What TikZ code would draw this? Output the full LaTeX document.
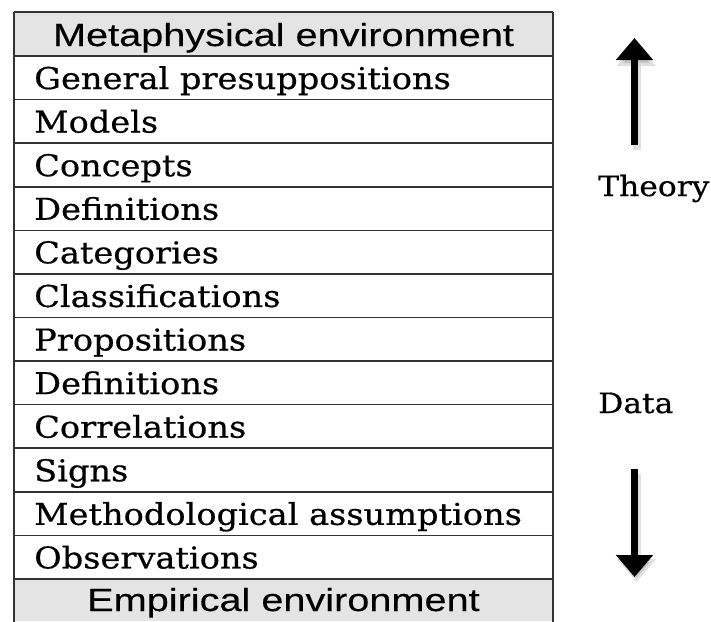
\documentclass[tikz,border=0pt]{standalone}
\usepackage{fontspec}
\setmainfont{DejaVu Serif}[FakeStretch=1.12,FakeBold=0.6]
\newfontfamily\hdrfont{Liberation Sans}[FakeStretch=1.24,FakeBold=0.3]
\usetikzlibrary{arrows.meta}
\definecolor{hdrgray}{HTML}{E4E4E4}
\definecolor{linegray}{HTML}{333333}
\tikzset{
  rowtext/.style={anchor=base west, inner sep=0pt, font=\fontsize{30}{36}\selectfont},
  hdrtext/.style={anchor=base, inner sep=0pt, font=\hdrfont\fontsize{32}{38}\selectfont},
  sidetext/.style={anchor=base west, inner sep=0pt, font=\fontsize{28}{34}\selectfont},
  rule/.style={draw=linegray, line width=1.6pt},
  bigarrow/.style={line width=7pt, -{Triangle[width=36pt,length=22pt]}},
  arrowshadow/.style={line width=8pt, draw=black, opacity=0.12, -{Triangle[width=38pt,length=23pt]}}
}
\begin{document}
\begin{tikzpicture}[x=1pt,y=-1pt]
\useasboundingbox (0,0) rectangle (711,621);
\fill[white] (0,0) rectangle (711,621);
% header fills
\fill[hdrgray] (14,12) rectangle (553,56);
\fill[hdrgray] (14,579) rectangle (553,621);
% horizontal rules
\draw[rule] (14,12) -- (553,12);
\foreach \k in {0,...,12} {
  \draw[rule] (14,{56+\k*43.583}) -- (553,{56+\k*43.583});
}
% vertical rules
\draw[rule] (14,12) -- (14,622);
\draw[rule] (553,12) -- (553,622);
% headers
\node[hdrtext] (meta) at (283.5,46) {Metaphysical environment};
\node[hdrtext] (emp) at (283.5,611) {Empirical environment};
% rows
\foreach \t [count=\i] in {General presuppositions, Models, Concepts, Definitions, Categories, Classifications, Propositions, Definitions, Correlations, Signs, Methodological assumptions, Observations} {
  \node[rowtext] (r\i) at (34,{56+(\i-1)*43.583+33}) {\t};
}
% side labels
\node[sidetext] (theory) at (598,196) {Theory};
\node[sidetext] (data) at (598,413) {Data};
% arrows
\coordinate (upA) at (634.5,145);
\coordinate (upB) at (634.5,38);
\coordinate (dnA) at (634.5,469);
\coordinate (dnB) at (634.5,577);
\draw[arrowshadow] ([shift={(2,5)}]upA) -- ([shift={(2,5)}]upB);
\draw[arrowshadow] ([shift={(2,5)}]dnA) -- ([shift={(2,5)}]dnB);
\draw[bigarrow] (upA) -- (upB);
\draw[bigarrow] (dnA) -- (dnB);
\end{tikzpicture}
\end{document}
